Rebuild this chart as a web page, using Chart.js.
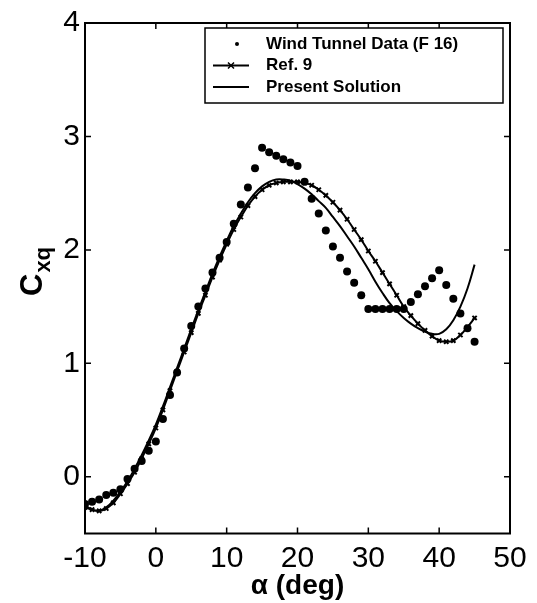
<!DOCTYPE html>
<html>
<head>
<meta charset="utf-8">
<script src="https://cdn.jsdelivr.net/npm/chart.js@4.4.1/dist/chart.umd.min.js"></script>
<style>
  html, body { margin: 0; padding: 0; background: #fff; }
  #wrap { width: 537px; height: 603px; }
</style>
</head>
<body>
<div id="wrap"><canvas id="cxqChart"></canvas></div>
<script>
// angle of attack (deg), one point per degree
const alphaDeg = [-10, -9, -8, -7, -6, -5, -4, -3, -2, -1, 0, 1, 2, 3, 4, 5, 6, 7, 8, 9,
  10, 11, 12, 13, 14, 15, 16, 17, 18, 19, 20, 21, 22, 23, 24, 25, 26, 27, 28, 29,
  30, 31, 32, 33, 34, 35, 36, 37, 38, 39, 40, 41, 42, 43, 44, 45];

const windTunnel = [-0.24, -0.22, -0.20, -0.16, -0.14, -0.11, -0.02, 0.07, 0.14, 0.23,
  0.31, 0.51, 0.72, 0.92, 1.13, 1.33, 1.50, 1.66, 1.80, 1.93,
  2.07, 2.23, 2.40, 2.55, 2.72, 2.90, 2.86, 2.83, 2.80, 2.77,
  2.74, 2.60, 2.45, 2.32, 2.17, 2.03, 1.93, 1.81, 1.71, 1.60,
  1.48, 1.48, 1.48, 1.48, 1.48, 1.48, 1.54, 1.61, 1.68, 1.75,
  1.82, 1.69, 1.57, 1.44, 1.31, 1.19];

const ref9 = [-0.27, -0.29, -0.30, -0.28, -0.23, -0.15, -0.06, 0.04, 0.16, 0.29,
  0.43, 0.59, 0.76, 0.93, 1.10, 1.27, 1.44, 1.60, 1.76, 1.91,
  2.05, 2.18, 2.29, 2.39, 2.47, 2.53, 2.57, 2.59, 2.60, 2.60,
  2.60, 2.59, 2.57, 2.53, 2.48, 2.42, 2.35, 2.27, 2.18, 2.09,
  1.99, 1.90, 1.80, 1.70, 1.60, 1.50, 1.42, 1.35, 1.29, 1.24,
  1.20, 1.19, 1.20, 1.25, 1.32, 1.40];

const presentSolution = [-0.25, -0.29, -0.30, -0.27, -0.21, -0.13, -0.04, 0.07, 0.19, 0.32,
  0.46, 0.62, 0.79, 0.96, 1.13, 1.30, 1.47, 1.63, 1.79, 1.94,
  2.08, 2.21, 2.32, 2.42, 2.50, 2.56, 2.60, 2.62, 2.62, 2.61,
  2.58, 2.54, 2.49, 2.43, 2.37, 2.29, 2.21, 2.12, 2.03, 1.93,
  1.83, 1.72, 1.62, 1.53, 1.46, 1.40, 1.35, 1.31, 1.28, 1.26,
  1.26, 1.30, 1.38, 1.50, 1.66, 1.87];

const xTicks = [-10, 0, 10, 20, 30, 40, 50];
const yTicks = [0, 1, 2, 3, 4];
const legendLabels = ['Wind Tunnel Data (F 16)', 'Ref. 9', 'Present Solution'];

const FONT = '"Liberation Sans", Arial, Helvetica, sans-serif';
Chart.defaults.font.family = FONT;
Chart.defaults.color = '#000';

const toPoints = vals => vals.map((v, i) => ({ x: alphaDeg[i], y: v }));

// frame, inward ticks, y title with subscript, boxed legend
const framePlugin = {
  id: 'framePlugin',
  afterDraw(chart) {
    const { ctx, chartArea: a, scales } = chart;
    ctx.save();
    ctx.strokeStyle = '#000';
    ctx.lineWidth = 2;
    ctx.strokeRect(a.left, a.top, a.right - a.left, a.bottom - a.top);

    ctx.lineWidth = 1.5;
    ctx.beginPath();
    xTicks.forEach(v => {
      const px = scales.x.getPixelForValue(v);
      ctx.moveTo(px, a.bottom); ctx.lineTo(px, a.bottom - 6);
      ctx.moveTo(px, a.top); ctx.lineTo(px, a.top + 6);
    });
    yTicks.forEach(v => {
      const py = scales.y.getPixelForValue(v);
      ctx.moveTo(a.left, py); ctx.lineTo(a.left + 6, py);
      ctx.moveTo(a.right, py); ctx.lineTo(a.right - 6, py);
    });
    ctx.stroke();

    // y axis title C_xq
    ctx.save();
    ctx.translate(42, 296);
    ctx.rotate(-Math.PI / 2);
    ctx.fillStyle = '#000';
    ctx.textBaseline = 'alphabetic';
    ctx.textAlign = 'left';
    ctx.font = 'bold 31px ' + FONT;
    ctx.fillText('C', 0, 0);
    const cw = ctx.measureText('C').width;
    ctx.font = 'bold 22px ' + FONT;
    ctx.fillText('xq', cw + 1, 8);
    ctx.restore();

    // legend
    const lx = 205, ly = 28, lw = 298, lh = 75;
    ctx.fillStyle = '#fff';
    ctx.fillRect(lx, ly, lw, lh);
    ctx.lineWidth = 1.5;
    ctx.strokeRect(lx, ly, lw, lh);
    const rows = [44, 65.5, 87];
    ctx.fillStyle = '#000';
    ctx.beginPath();
    ctx.arc(237, rows[0], 2, 0, Math.PI * 2);
    ctx.fill();
    ctx.lineWidth = 2;
    ctx.beginPath();
    ctx.moveTo(213, rows[1]); ctx.lineTo(249, rows[1]);
    ctx.moveTo(213, rows[2]); ctx.lineTo(249, rows[2]);
    ctx.stroke();
    ctx.lineWidth = 1.5;
    ctx.beginPath();
    ctx.moveTo(228, rows[1] - 3); ctx.lineTo(234, rows[1] + 3);
    ctx.moveTo(234, rows[1] - 3); ctx.lineTo(228, rows[1] + 3);
    ctx.stroke();
    ctx.font = 'bold 17px ' + FONT;
    ctx.textBaseline = 'middle';
    legendLabels.forEach((t, i) => ctx.fillText(t, 266, rows[i]));
    ctx.restore();
  }
};

const ctx = document.getElementById('cxqChart').getContext('2d');
new Chart(ctx, {
  type: 'scatter',
  data: {
    datasets: [
      {
        label: legendLabels[0],
        data: toPoints(windTunnel),
        showLine: false,
        pointRadius: 4,
        pointBackgroundColor: '#000',
        pointBorderColor: '#000',
        pointBorderWidth: 0
      },
      {
        label: legendLabels[1],
        data: toPoints(ref9),
        showLine: true,
        borderColor: '#000',
        borderWidth: 2,
        tension: 0.4,
        pointStyle: 'crossRot',
        pointRadius: 3,
        pointBorderColor: '#000',
        pointBorderWidth: 2
      },
      {
        label: legendLabels[2],
        data: toPoints(presentSolution),
        showLine: true,
        borderColor: '#000',
        borderWidth: 2,
        tension: 0.4,
        pointRadius: 0
      }
    ]
  },
  options: {
    responsive: true,
    maintainAspectRatio: false,
    animation: false,
    events: [],
    layout: { padding: { top: 19, right: 27, left: 0, bottom: 0 } },
    plugins: { legend: { display: false }, tooltip: { enabled: false } },
    scales: {
      x: {
        type: 'linear',
        min: -10,
        max: 50,
        afterBuildTicks: s => { s.ticks = xTicks.map(v => ({ value: v })); },
        afterFit: s => { s.height = 69.5; },
        grid: { display: false, drawTicks: false },
        border: { display: false },
        ticks: { font: { size: 30 }, color: '#000', padding: 7, maxRotation: 0 },
        title: {
          display: true,
          text: 'α (deg)',
          font: { size: 28, weight: 'bold' },
          color: '#000',
          padding: { top: 0, bottom: 0 }
        }
      },
      y: {
        min: -0.5,
        max: 4,
        afterBuildTicks: s => { s.ticks = yTicks.map(v => ({ value: v })); },
        afterFit: s => { s.width = 85; },
        grid: { display: false, drawTicks: false },
        border: { display: false },
        ticks: { font: { size: 30 }, color: '#000', padding: 5 }
      }
    }
  },
  plugins: [framePlugin]
});
</script>
</body>
</html>
